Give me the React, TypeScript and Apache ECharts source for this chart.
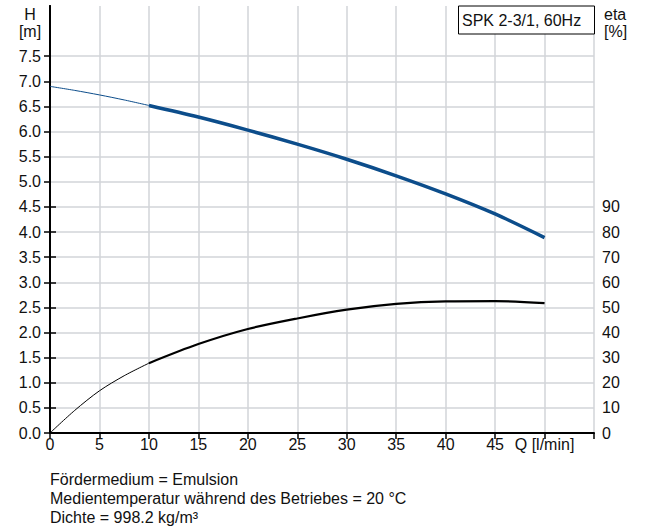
import React, { useEffect, useRef } from "react";
import * as echarts from "echarts";

const qThin = [0, 2.5, 5, 7.5, 10];
const hThin = [6.9, 6.82, 6.73, 6.63, 6.52];
const etaThin = [0, 9, 16.8, 22.8, 27.8];
const qThick = [10, 15, 20, 25, 30, 35, 40, 45, 50];
const hThick = [6.52, 6.29, 6.03, 5.75, 5.45, 5.12, 4.76, 4.36, 3.89];
const etaThick = [27.8, 35.4, 41.4, 45.6, 49.1, 51.4, 52.4, 52.5, 51.7];
const xTicks = [0, 5, 10, 15, 20, 25, 30, 35, 40, 45, 50, 55];
const hLabels = [0, 0.5, 1, 1.5, 2, 2.5, 3, 3.5, 4, 4.5, 5, 5.5, 6, 6.5, 7, 7.5];
const etaLabels = [0, 10, 20, 30, 40, 50, 60, 70, 80, 90];
const legendText = "SPK 2-3/1, 60Hz";
const notes = [
  "Fördermedium = Emulsion",
  "Medientemperatur während des Betriebes = 20 °C",
  "Dichte = 998.2 kg/m³",
];

const FONT = "'Liberation Sans', Arial, sans-serif";
const FS = 16;
const TXT = "#111";
const BLUE = "#0c4d8b";
const GRID = "#d2d5d8";

export default function App() {
  const ref = useRef<HTMLDivElement>(null);
  useEffect(() => {
    if (!ref.current) return;
    const chart = echarts.init(ref.current, undefined, { renderer: "svg" });
    const zip = (xs: number[], ys: number[]) => xs.map((x, i) => [x, ys[i]]);
    chart.setOption({
      animation: false,
      textStyle: { fontFamily: FONT },
      grid: { left: 50, right: 52, top: 6, bottom: 93 },
      xAxis: [
        {
          type: "value",
          min: 0,
          max: 55,
          interval: 5,
          axisLine: { lineStyle: { color: "#000", width: 2 } },
          axisTick: { length: 6, lineStyle: { color: "#000", width: 1.5 }, customValues: xTicks },
          axisLabel: {
            color: TXT,
            fontSize: FS,
            fontFamily: FONT,
            margin: 3,
            customValues: xTicks.slice(0, 11),
            formatter: (v: number) => (v === 50 ? "Q [l/min]" : String(v)),
          },
          splitLine: { show: true, lineStyle: { color: GRID, width: 1.5 } },
        },
        {
          type: "value",
          position: "top",
          min: 0,
          max: 55,
          axisLine: { show: true, lineStyle: { color: "#000", width: 1.2 } },
          axisTick: { show: false },
          axisLabel: { show: false },
          splitLine: { show: false },
        },
      ],
      yAxis: [
        {
          type: "value",
          min: 0,
          max: 8.5,
          interval: 0.5,
          position: "left",
          axisLine: { show: true, lineStyle: { color: "#000", width: 2 } },
          axisTick: { show: true, length: 6, lineStyle: { color: "#000", width: 1.5 }, customValues: hLabels },
          axisLabel: {
            color: TXT,
            fontSize: FS,
            fontFamily: FONT,
            margin: 9,
            customValues: hLabels,
            formatter: (v: number) => v.toFixed(1),
          },
          splitLine: { show: true, lineStyle: { color: GRID, width: 1.5 } },
        },
        {
          type: "value",
          min: 0,
          max: 170,
          interval: 10,
          position: "right",
          axisLine: { show: true, lineStyle: { color: "#000", width: 2 } },
          axisTick: { show: true, length: 6, lineStyle: { color: "#000", width: 1.5 }, customValues: etaLabels },
          axisLabel: {
            color: TXT,
            fontSize: FS,
            fontFamily: FONT,
            margin: 8,
            customValues: etaLabels,
          },
          splitLine: { show: false },
        },
      ],
      series: [
        {
          type: "line",
          data: zip(qThin, hThin),
          smooth: 0.3,
          showSymbol: false,
          lineStyle: { color: BLUE, width: 1 },
          yAxisIndex: 0,
        },
        {
          type: "line",
          data: zip(qThick, hThick),
          smooth: 0.3,
          showSymbol: false,
          lineStyle: { color: BLUE, width: 3.5 },
          yAxisIndex: 0,
        },
        {
          type: "line",
          data: zip(qThin, etaThin),
          smooth: 0.3,
          showSymbol: false,
          lineStyle: { color: "#000", width: 1 },
          yAxisIndex: 1,
        },
        {
          type: "line",
          data: zip(qThick, etaThick),
          smooth: 0.3,
          showSymbol: false,
          lineStyle: { color: "#000", width: 2.2 },
          yAxisIndex: 1,
        },
      ],
      graphic: [
        {
          type: "rect",
          shape: { x: 458.5, y: 6, width: 136, height: 28 },
          style: { fill: "#fff", stroke: "#000", lineWidth: 1 },
          z: 10,
        },
        {
          type: "text",
          x: 462,
          y: 20,
          style: { text: legendText, font: `${FS}px ${FONT}`, fill: TXT, textVerticalAlign: "middle" },
          z: 11,
        },
        {
          type: "text",
          x: 30,
          y: 14,
          style: { text: "H", font: `${FS}px ${FONT}`, fill: TXT, textAlign: "center", textVerticalAlign: "middle" },
        },
        {
          type: "text",
          x: 30,
          y: 31,
          style: { text: "[m]", font: `${FS}px ${FONT}`, fill: TXT, textAlign: "center", textVerticalAlign: "middle" },
        },
        {
          type: "text",
          x: 604,
          y: 14,
          style: { text: "eta", font: `${FS}px ${FONT}`, fill: TXT, textVerticalAlign: "middle" },
        },
        {
          type: "text",
          x: 604,
          y: 31,
          style: { text: "[%]", font: `${FS}px ${FONT}`, fill: TXT, textVerticalAlign: "middle" },
        },
        ...notes.map((t, i) => ({
          type: "text",
          x: 50,
          y: 479 + i * 19,
          style: { text: t, font: `${FS}px ${FONT}`, fill: TXT, textVerticalAlign: "middle" },
        })),
      ],
    });
    return () => chart.dispose();
  }, []);
  return <div ref={ref} style={{ position: "fixed", left: 0, top: 0, width: 646, height: 526, background: "#fff" }} />;
}
